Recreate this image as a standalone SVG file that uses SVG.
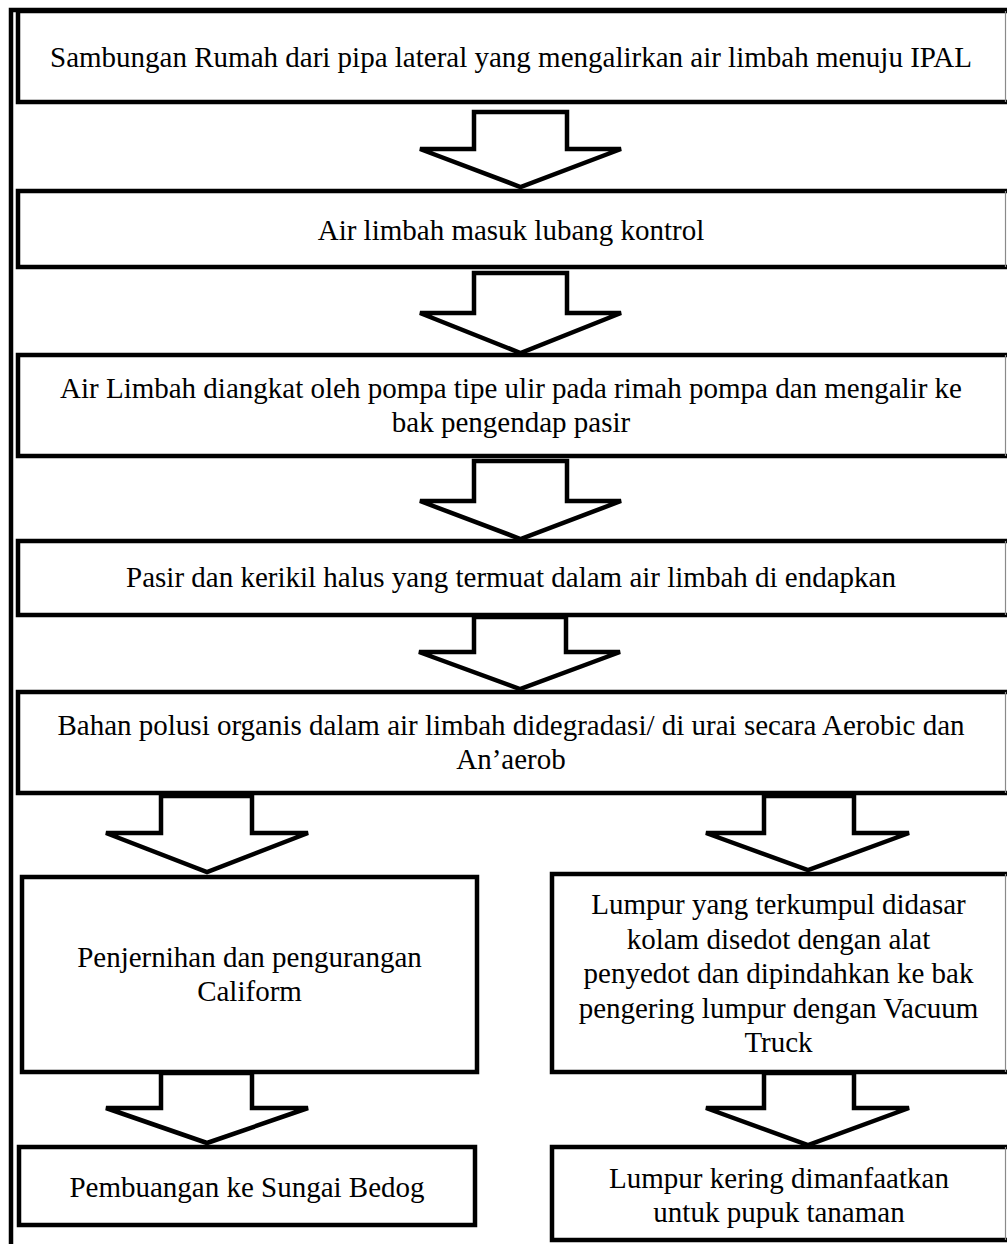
<svg xmlns="http://www.w3.org/2000/svg" width="1007" height="1244" viewBox="0 0 1007 1244">
<style>
.box{fill:#fff;stroke:#000;stroke-width:4.5}
.edge{stroke:#8a8a8a;stroke-width:1.2;fill:none}
.arr{fill:#fff;stroke:#000;stroke-width:4.5;stroke-linejoin:miter}
.t{font-family:"Liberation Serif","Times New Roman",serif;font-size:29px;fill:#000;text-anchor:middle}
.frame{fill:none;stroke:#000;stroke-width:4.5}
</style>
<rect x="0" y="0" width="1007" height="1244" fill="#fff"/>
<path class="frame" d="M11,1244 V10 H1007"/>
<g id="n1">
<rect class="box" x="18" y="11" width="994" height="91"/>
<line class="edge" x1="1005.5" y1="11" x2="1005.5" y2="102"/>
<text class="t" x="511" y="67">Sambungan Rumah dari pipa lateral yang mengalirkan air limbah menuju IPAL</text>
</g>
<g id="n2">
<rect class="box" x="18" y="191" width="994" height="76"/>
<line class="edge" x1="1005.5" y1="191" x2="1005.5" y2="267"/>
<text class="t" x="511" y="240">Air limbah masuk lubang kontrol</text>
</g>
<g id="n3">
<rect class="box" x="18" y="355" width="994" height="101"/>
<line class="edge" x1="1005.5" y1="355" x2="1005.5" y2="456"/>
<text class="t" x="511" y="398">Air Limbah diangkat oleh pompa tipe ulir pada rimah pompa dan mengalir ke</text>
<text class="t" x="511" y="432">bak pengendap pasir</text>
</g>
<g id="n4">
<rect class="box" x="18" y="541" width="994" height="74"/>
<line class="edge" x1="1005.5" y1="541" x2="1005.5" y2="615"/>
<text class="t" x="511" y="587">Pasir dan kerikil halus yang termuat dalam air limbah di endapkan</text>
</g>
<g id="n5">
<rect class="box" x="18" y="692" width="994" height="101"/>
<line class="edge" x1="1005.5" y1="692" x2="1005.5" y2="793"/>
<text class="t" x="511" y="735">Bahan polusi organis dalam air limbah didegradasi/ di urai secara Aerobic dan</text>
<text class="t" x="511" y="769">An’aerob</text>
</g>
<g id="n6">
<rect class="box" x="22" y="877" width="455" height="195"/>
<text class="t" x="249.5" y="967">Penjernihan dan pengurangan</text>
<text class="t" x="249.5" y="1001">Caliform</text>
</g>
<g id="n7">
<rect class="box" x="552" y="874" width="460" height="198"/>
<line class="edge" x1="1005.5" y1="874" x2="1005.5" y2="1072"/>
<text class="t" x="778.5" y="914">Lumpur yang terkumpul didasar</text>
<text class="t" x="778.5" y="948.5">kolam disedot dengan alat</text>
<text class="t" x="778.5" y="983">penyedot dan dipindahkan ke bak</text>
<text class="t" x="778.5" y="1017.5">pengering lumpur dengan Vacuum</text>
<text class="t" x="778.5" y="1052">Truck</text>
</g>
<g id="n8">
<rect class="box" x="19" y="1147" width="456" height="78"/>
<text class="t" x="247" y="1197">Pembuangan ke Sungai Bedog</text>
</g>
<g id="n9">
<rect class="box" x="552" y="1147" width="460" height="93"/>
<line class="edge" x1="1005.5" y1="1147" x2="1005.5" y2="1240"/>
<text class="t" x="779" y="1188">Lumpur kering dimanfaatkan</text>
<text class="t" x="779" y="1222">untuk pupuk tanaman</text>
</g>
<g id="connectors">
<polygon class="arr" points="474,112 567,112 567,149 621,149 520.5,187 420,149 474,149"/>
<polygon class="arr" points="474,273 567,273 567,313 621,313 520.5,353 420,313 474,313"/>
<polygon class="arr" points="474,461 567,461 567,501 621,501 520.5,539 420,501 474,501"/>
<polygon class="arr" points="474,617 566,617 566,652 620,652 520,689 419,652 474,652"/>
<polygon class="arr" points="161,796 252,796 252,833 308,833 207,872 106,833 161,833"/>
<polygon class="arr" points="764,796 854,796 854,833 909,833 808,870 706,833 764,833"/>
<polygon class="arr" points="161,1073 252,1073 252,1108 308,1108 207,1143 106,1108 161,1108"/>
<polygon class="arr" points="764,1073 854,1073 854,1108 909,1108 808,1145 706,1108 764,1108"/>
</g>
</svg>
